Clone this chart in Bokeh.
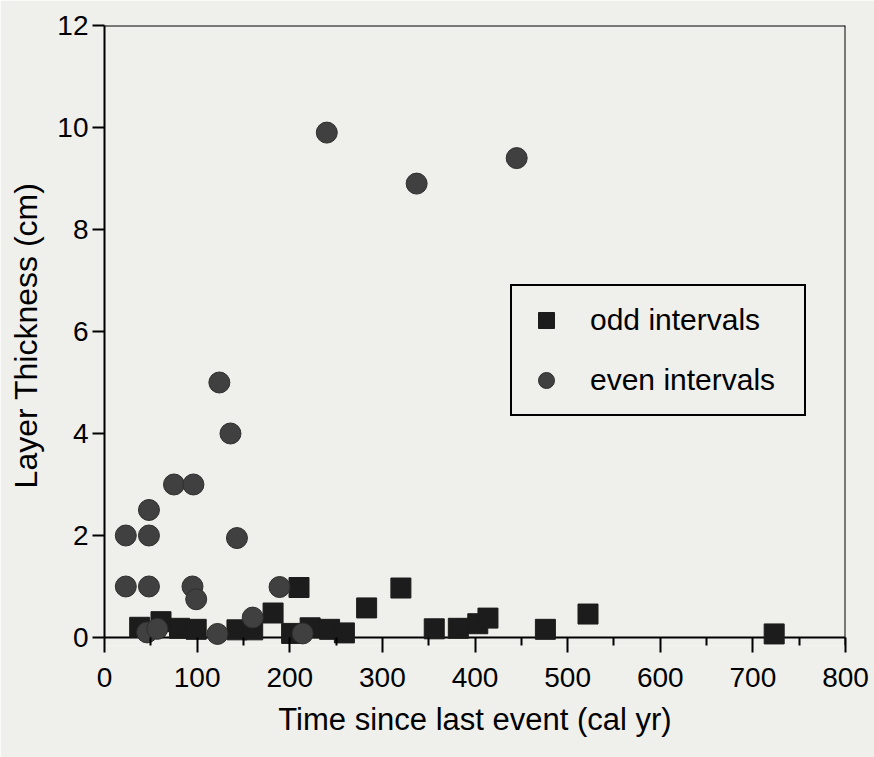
from bokeh.plotting import figure
from bokeh.models import FixedTicker, Legend, LegendItem, Range1d, Span
from bokeh.embed import file_html
from bokeh.resources import INLINE

# Time since last event (cal yr) and layer thickness (cm)
odd_time = [38, 61, 81, 99, 143, 160, 182, 202, 210, 222, 243, 259, 283, 320,
            356, 382, 403, 414, 476, 522, 723]
odd_thickness = [0.20, 0.31, 0.18, 0.16, 0.15, 0.15, 0.48, 0.08, 0.98, 0.19, 0.16,
                 0.09, 0.58, 0.97, 0.17, 0.18, 0.27, 0.38, 0.16, 0.46, 0.07]

even_time = [23, 23, 48, 48, 48, 75, 96, 95, 99, 124, 136, 143, 240, 337, 445,
             46, 57, 122, 160, 189, 214]
even_thickness = [2.0, 1.0, 1.0, 2.0, 2.5, 3.0, 3.0, 1.0, 0.75, 5.0, 4.0, 1.95,
                  9.9, 8.9, 9.4, 0.10, 0.17, 0.07, 0.39, 0.99, 0.08]

x_ticks = [0, 100, 200, 300, 400, 500, 600, 700, 800]
x_minor = [50, 150, 250, 350, 450, 550, 650, 750]
y_ticks = [0, 2, 4, 6, 8, 10, 12]

FONT = "Liberation Sans"
PAPER = "#efefec"

# The y range dips a little below zero so markers resting on zero are drawn
# whole. The zero line is drawn as a span and the x ticks reach up to it.
p = figure(width=874, height=757, output_backend="svg", toolbar_location=None,
           x_range=Range1d(0, 800), y_range=Range1d(-0.157, 12),
           min_border_left=104, min_border_right=29, min_border_top=25,
           min_border_bottom=112)
p.background_fill_color = PAPER
p.border_fill_color = PAPER
p.outline_line_color = None
p.grid.visible = False

p.add_layout(Span(location=0, dimension="width", line_color="black",
                  line_width=2, level="underlay"))

sq = p.scatter(odd_time, odd_thickness, marker="square", size=20,
               fill_color="#1c1c1c", line_color="#1c1c1c")
ci = p.scatter(even_time, even_thickness, marker="circle", size=21,
               fill_color="#404040", line_color="#2e2e2e", line_width=1)

for ax in (p.xaxis[0], p.yaxis[0]):
    ax.axis_line_width = 2
    ax.major_tick_line_width = 2
    ax.minor_tick_line_width = 2
    ax.major_label_text_font = FONT
    ax.major_label_text_font_size = "28px"
    ax.major_label_text_color = "black"
    ax.axis_label_text_font = FONT
    ax.axis_label_text_font_style = "normal"
    ax.axis_label_text_color = "black"

xa = p.xaxis[0]
xa.axis_line_color = None
xa.major_tick_in = 8
xa.major_tick_out = 7
xa.minor_tick_in = 8
xa.minor_tick_out = 0

ya = p.yaxis[0]
ya.bounds = (0, 12)
ya.major_tick_in = 0
ya.major_tick_out = 12
ya.minor_tick_in = 0
ya.minor_tick_out = 0

p.xaxis.ticker = FixedTicker(ticks=x_ticks, minor_ticks=x_minor)
p.yaxis.ticker = FixedTicker(ticks=y_ticks, minor_ticks=[])
p.xaxis.axis_label = "Time since last event (cal yr)"
p.yaxis.axis_label = "Layer Thickness (cm)"
p.xaxis.axis_label_text_font_size = "31px"
p.yaxis.axis_label_text_font_size = "32px"
p.xaxis.major_label_standoff = 15
p.yaxis.major_label_standoff = 4
p.xaxis.axis_label_standoff = 12
p.yaxis.axis_label_standoff = 10

# top and right edges of the plot box
p.add_layout(Span(location=12, dimension="width", line_color="black", line_width=2))
p.add_layout(Span(location=800, dimension="height", line_color="black", line_width=2))

legend = Legend(items=[LegendItem(label="odd intervals", renderers=[sq]),
                       LegendItem(label="even intervals", renderers=[ci])],
                location=(406, 229))
legend.label_text_font = FONT
legend.label_text_font_size = "30px"
legend.label_text_color = "black"
legend.border_line_color = "black"
legend.border_line_alpha = 1
legend.border_line_width = 2
legend.background_fill_color = PAPER
legend.background_fill_alpha = 1
legend.padding = 14
legend.margin = 0
legend.spacing = 20
legend.label_height = 40
legend.label_width = 200
legend.glyph_height = 40
legend.glyph_width = 40
legend.label_standoff = 24
p.add_layout(legend)

open("out.html", "w").write(file_html(p, INLINE))
